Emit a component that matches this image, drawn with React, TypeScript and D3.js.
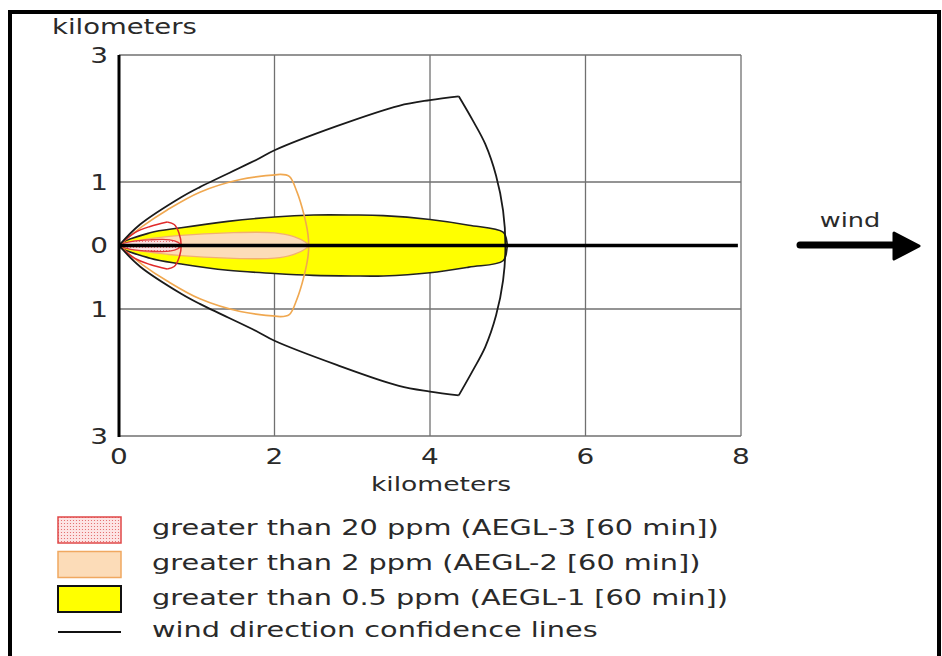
import React from "react";
import * as d3 from "d3";

// grid ticks (km)
const xTicks = [0, 2, 4, 6, 8];
const yTicks = [3, 1, 0, -1, -3];
const yTickLabels = ["3", "1", "0", "1", "3"];

// wind direction confidence lines: two rays and the closing arc (km)
const confUpper: [number, number][] = [[0, 0], [0.27, 0.33], [0.8, 0.76], [1.04, 0.92], [1.77, 1.35], [2, 1.5], [2.8, 1.88], [3.6, 2.2], [4, 2.29], [4.37, 2.35]];
const confArc: [number, number][] = [[4.37, 2.35], [4.55, 1.97], [4.71, 1.6], [4.85, 1.1], [4.94, 0.55], [4.97, 0], [4.94, -0.55], [4.85, -1.1], [4.71, -1.6], [4.55, -1.97], [4.37, -2.36]];
const confLower: [number, number][] = [[0, 0], [0.27, -0.33], [0.8, -0.76], [1.04, -0.92], [1.77, -1.35], [2, -1.5], [2.8, -1.88], [3.6, -2.21], [4, -2.3], [4.37, -2.36]];

// AEGL-2 confidence boundary
const orangeUpper: [number, number][] = [[0, 0], [0.3, 0.3], [0.62, 0.56], [1.04, 0.84], [1.56, 1.04], [2.07, 1.12]];
const orangeArc: [number, number][] = [[2.07, 1.12], [2.19, 1.09], [2.29, 0.84], [2.38, 0.48], [2.43, 0.18], [2.44, 0], [2.43, -0.18], [2.38, -0.48], [2.29, -0.84], [2.19, -1.09], [2.07, -1.12]];
const orangeLower: [number, number][] = [[0, 0], [0.3, -0.3], [0.62, -0.56], [1.04, -0.84], [1.56, -1.04], [2.07, -1.12]];

// AEGL-3 confidence boundary
const redUpper: [number, number][] = [[0, 0], [0.2, 0.2], [0.4, 0.3], [0.62, 0.37]];
const redArc: [number, number][] = [[0.62, 0.37], [0.71, 0.33], [0.77, 0.2], [0.8, 0], [0.77, -0.2], [0.71, -0.33], [0.62, -0.37]];
const redLower: [number, number][] = [[0, 0], [0.2, -0.2], [0.4, -0.3], [0.62, -0.37]];

// plume footprints (closed outlines)
const yellowPlume: [number, number][] = [
  [0, 0], [0.4, 0.2], [0.8, 0.28], [1.4, 0.38], [2, 0.45], [2.5, 0.48], [3, 0.48], [3.4, 0.47], [4, 0.41], [4.5, 0.32], [4.94, 0.21], [4.99, 0.05],
  [4.99, -0.05], [4.94, -0.24], [4.5, -0.34], [4, -0.43], [3.4, -0.48], [3, -0.48], [2.5, -0.47], [2, -0.44], [1.4, -0.39], [0.8, -0.29], [0.4, -0.2],
];
const peachPlume: [number, number][] = [
  [0, 0], [0.3, 0.09], [0.8, 0.16], [1.4, 0.2], [2, 0.2], [2.25, 0.14], [2.4, 0.05], [2.44, 0],
  [2.4, -0.05], [2.25, -0.14], [2, -0.2], [1.4, -0.2], [0.8, -0.16], [0.3, -0.09],
];
const redPlume: [number, number][] = [
  [0, 0], [0.15, 0.06], [0.4, 0.09], [0.65, 0.09], [0.76, 0.05], [0.8, 0],
  [0.76, -0.05], [0.65, -0.09], [0.4, -0.09], [0.15, -0.06],
];

const legendLabels = [
  "greater than 20 ppm (AEGL-3 [60 min])",
  "greater than 2 ppm (AEGL-2 [60 min])",
  "greater than 0.5 ppm (AEGL-1 [60 min])",
  "wind direction confidence lines",
];

const W = 942;
const H = 656;
const FONT = "'DejaVu Sans', Verdana, sans-serif";
const SX = 1.33;

export default function App() {
  const x = d3.scaleLinear().domain([0, 8]).range([119, 741]);
  const y = d3.scaleLinear().domain([-3, 3]).range([436, 55]);

  const open = d3.line<[number, number]>().x(d => x(d[0])).y(d => y(d[1])).curve(d3.curveCatmullRom);
  const closed = d3.line<[number, number]>().x(d => x(d[0])).y(d => y(d[1])).curve(d3.curveCatmullRomClosed);

  const txt = (s: string, tx: number, ty: number, anchor: string, size = 21, sx = SX) => (
    <text
      transform={`translate(${tx},${ty}) scale(${sx},1)`}
      textAnchor={anchor}
      fontFamily={FONT}
      fontSize={size}
      fill="#2a2a2a"
    >
      {s}
    </text>
  );

  const legY = [517, 551.5, 586, 632];
  const legBase = [535, 570, 605, 637];

  return (
    <svg width={W} height={H} style={{ position: "absolute", left: 0, top: 0, background: "#fff" }}>
      <defs>
        <pattern id="dots" width="3" height="3" patternUnits="userSpaceOnUse">
          <rect width="3" height="3" fill="#fde4e4" />
          <circle cx="1.5" cy="1.5" r="0.6" fill="#e06060" />
        </pattern>
      </defs>

      {/* frame */}
      <path d={`M10,${H} V12 H939 V${H}`} fill="none" stroke="#000" strokeWidth={4} />

      {/* grid */}
      <g stroke="#707070" strokeWidth={1.3}>
        {xTicks.slice(1).map(t => (
          <line key={"gx" + t} x1={x(t)} x2={x(t)} y1={y(3)} y2={y(-3)} />
        ))}
        {yTicks.filter(t => t !== 0).map(t => (
          <line key={"gy" + t} x1={x(0)} x2={x(8)} y1={y(t)} y2={y(t)} />
        ))}
      </g>

      {/* plumes */}
      <path d={closed(yellowPlume) || ""} fill="#ffff00" stroke="#222" strokeWidth={1.6} />
      <path d={closed(peachPlume) || ""} fill="#fcdcb8" stroke="#f2b070" strokeWidth={1.3} />
      <path d={closed(redPlume) || ""} fill="url(#dots)" stroke="#e23a3a" strokeWidth={1.3} />

      {/* confidence lines */}
      <g fill="none">
        {[orangeUpper, orangeArc, orangeLower].map((p, i) => (
          <path key={"o" + i} d={open(p) || ""} stroke="#f0a850" strokeWidth={1.6} />
        ))}
        {[redUpper, redArc, redLower].map((p, i) => (
          <path key={"r" + i} d={open(p) || ""} stroke="#e02a2a" strokeWidth={1.5} />
        ))}
        {[confUpper, confArc, confLower].map((p, i) => (
          <path key={"c" + i} d={open(p) || ""} stroke="#1a1a1a" strokeWidth={1.8} />
        ))}
      </g>

      {/* centre line and axis */}
      <line x1={x(0)} x2={x(7.96)} y1={y(0)} y2={y(0)} stroke="#000" strokeWidth={3.5} />
      <line x1={x(0)} x2={x(0)} y1={y(3)} y2={y(-3) + 1} stroke="#000" strokeWidth={3} />

      {/* tick labels */}
      {yTicks.map((t, i) => (
        <g key={"yl" + i}>{txt(yTickLabels[i], 108, y(t) + (t === -3 ? 8 : 7.5), "end")}</g>
      ))}
      {xTicks.map(t => (
        <g key={"xl" + t}>{txt(String(t), x(t), 464, "middle")}</g>
      ))}
      {txt("kilometers", 52, 34, "start", 20.5, 1.34)}
      {txt("kilometers", 441, 491, "middle", 20, 1.33)}

      {/* wind arrow */}
      {txt("wind", 850, 227, "middle", 20, 1.28)}
      <line x1={800} x2={900} y1={245} y2={245} stroke="#000" strokeWidth={7} strokeLinecap="round" />
      <path d="M894,233 L919,246 L894,259 Z" fill="#000" stroke="#000" strokeWidth={3} strokeLinejoin="round" />

      {/* legend */}
      <rect x={58} y={legY[0]} width={63} height={26} fill="url(#dots)" stroke="#e04848" strokeWidth={1.5} />
      <rect x={58} y={legY[1]} width={63} height={26} fill="#fcdcb8" stroke="#f0a860" strokeWidth={1.5} />
      <rect x={58} y={legY[2]} width={63} height={26} fill="#ffff00" stroke="#111" strokeWidth={2} />
      <line x1={58} x2={121} y1={legY[3]} y2={legY[3]} stroke="#111" strokeWidth={2} />
      {legendLabels.map((s, i) => (
        <g key={"lg" + i}>{txt(s, 152, legBase[i], "start", 21, 1.37)}</g>
      ))}
    </svg>
  );
}
